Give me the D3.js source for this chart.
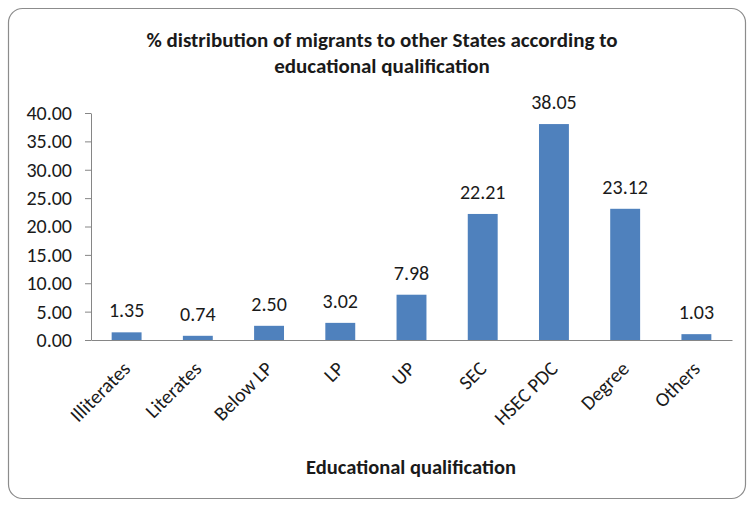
<!DOCTYPE html>
<html>
<head>
<meta charset="utf-8">
<script src="https://d3js.org/d3.v7.min.js"></script>
<style>
  body { margin: 0; background: #fff; }
</style>
</head>
<body>
<div id="chart"></div>
<script>
// data
const categories = ["Illiterates", "Literates", "Below LP", "LP", "UP", "SEC", "HSEC PDC", "Degree", "Others"];
const values = [1.35, 0.74, 2.50, 3.02, 7.98, 22.21, 38.05, 23.12, 1.03];
const yTicks = [0, 5, 10, 15, 20, 25, 30, 35, 40];

const W = 752, H = 506;
const margin = {top: 113, right: 20, bottom: 166, left: 91};
const w = 732 - margin.left;
const h = 340 - margin.top;

const svg = d3.select("#chart").append("svg")
    .attr("width", W).attr("height", H);

svg.append("rect")
    .attr("x", 8.5).attr("y", 8.5)
    .attr("width", 737).attr("height", 490)
    .attr("rx", 14)
    .attr("fill", "#fff").attr("stroke", "#8c8c8c").attr("stroke-width", 1.2);

const font = "Calibri, Carlito, Lato, sans-serif";

const title = svg.append("text")
    .attr("text-anchor", "middle")
    .attr("font-family", font)
    .attr("font-weight", "bold")
    .attr("font-size", "21px")
    .attr("fill", "#1a1a1a");
title.append("tspan").attr("x", 382).attr("y", 47)
    .text("% distribution of migrants to other States according to");
title.append("tspan").attr("x", 382).attr("y", 73)
    .text("educational qualification");

const g = svg.append("g").attr("transform", `translate(${margin.left},${margin.top})`);

const x = d3.scaleBand().domain(categories).range([0, w]).paddingInner(0.58).paddingOuter(0.29);
const y = d3.scaleLinear().domain([0, 40]).range([h, 0]);

const yAxis = g.append("g")
    .call(d3.axisLeft(y).tickValues(yTicks).tickFormat(d3.format(".2f")).tickSize(6).tickSizeOuter(0));
yAxis.selectAll("line, path").attr("stroke", "#868686");
yAxis.selectAll("text")
    .attr("font-family", font).attr("font-size", "20px").attr("fill", "#1a1a1a")
    .attr("x", -19);

g.selectAll("rect.bar").data(values).enter().append("rect")
    .attr("class", "bar")
    .attr("x", (d, i) => x(categories[i]))
    .attr("y", d => y(d))
    .attr("width", x.bandwidth())
    .attr("height", d => h - y(d))
    .attr("fill", "#4f81bd");

g.selectAll("text.val").data(values).enter().append("text")
    .attr("class", "val")
    .attr("x", (d, i) => x(categories[i]) + x.bandwidth() / 2)
    .attr("y", d => y(d) - 15)
    .attr("text-anchor", "middle")
    .attr("font-family", font).attr("font-size", "20px").attr("fill", "#1a1a1a")
    .text(d => d.toFixed(2));

const xAxis = g.append("g").attr("transform", `translate(0,${h})`)
    .call(d3.axisBottom(x).tickSize(0).tickSizeOuter(0));
xAxis.select("path").attr("stroke", "#868686");
xAxis.selectAll("text")
    .attr("font-family", font).attr("font-size", "20px").attr("fill", "#1a1a1a")
    .attr("text-anchor", "end")
    .attr("x", 0).attr("y", 0).attr("dy", 0)
    .attr("transform", "translate(5,30) rotate(-45)");

svg.append("text")
    .attr("x", 411).attr("y", 474)
    .attr("text-anchor", "middle")
    .attr("font-family", font).attr("font-weight", "bold")
    .attr("font-size", "20.5px").attr("fill", "#1a1a1a")
    .text("Educational qualification");
</script>
</body>
</html>
